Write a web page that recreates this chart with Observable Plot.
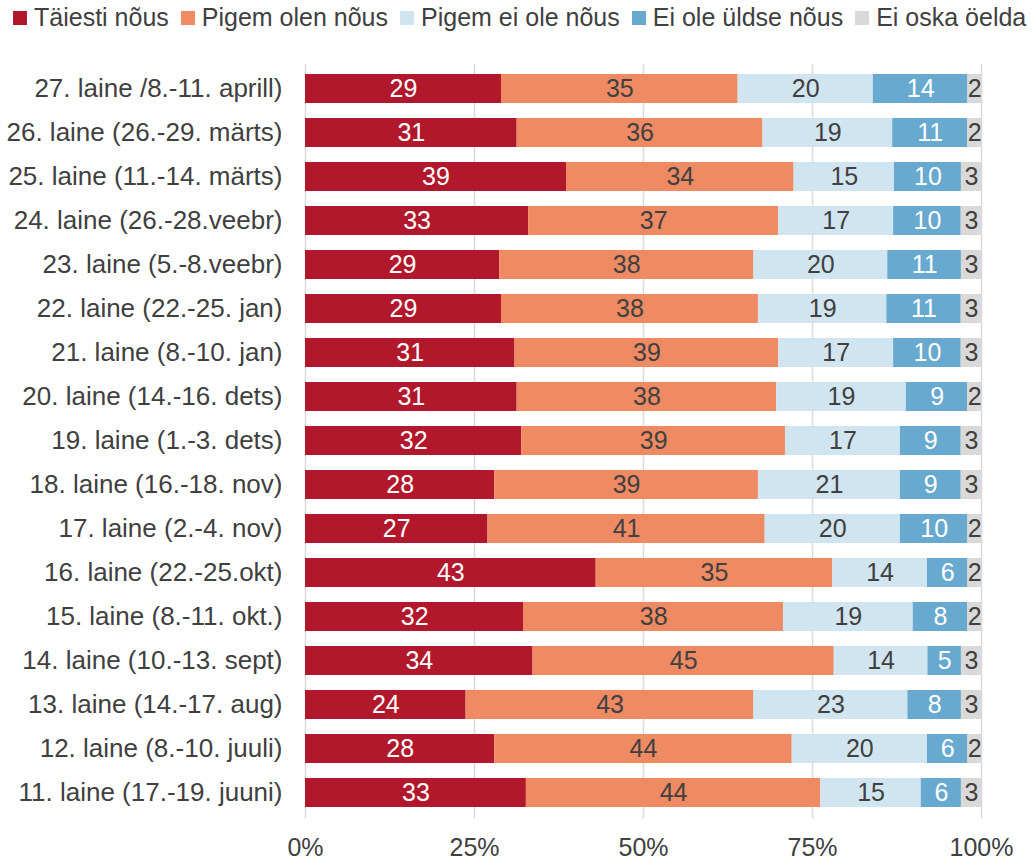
<!DOCTYPE html>
<html>
<head>
<meta charset="utf-8">
<script src="https://cdn.jsdelivr.net/npm/d3@7"></script>
<script src="https://cdn.jsdelivr.net/npm/@observablehq/plot@0.6"></script>
<style>
  html, body { margin: 0; padding: 0; background: #fff; }
  body { width: 1033px; height: 863px; overflow: hidden; font-family: "Liberation Sans", Arial, sans-serif; color: #404040; }
  #legend { height: 38px; padding-top: 2px; display: flex; align-items: flex-start; white-space: nowrap; overflow: hidden; padding-left: 13px; font-size: 25px; line-height: 30px; }
  .item { display: flex; align-items: flex-start; margin-right: 12px; flex: none; }
  .sw { width: 14px; height: 14px; margin-top: 9px; margin-right: 7px; flex: none; }
  #chart svg { display: block; }
</style>
</head>
<body>
<div id="legend"></div>
<div id="chart"></div>
<script>
const waves = [
  "27. laine /8.-11. aprill)",
  "26. laine (26.-29. märts)",
  "25. laine (11.-14. märts)",
  "24. laine (26.-28.veebr)",
  "23. laine (5.-8.veebr)",
  "22. laine (22.-25. jan)",
  "21. laine (8.-10. jan)",
  "20. laine (14.-16. dets)",
  "19. laine (1.-3. dets)",
  "18. laine (16.-18. nov)",
  "17. laine (2.-4. nov)",
  "16. laine (22.-25.okt)",
  "15. laine (8.-11. okt.)",
  "14. laine (10.-13. sept)",
  "13. laine (14.-17. aug)",
  "12. laine (8.-10. juuli)",
  "11. laine (17.-19. juuni)"
];
const seriesNames = ["Täiesti nõus", "Pigem olen nõus", "Pigem ei ole nõus", "Ei ole üldse nõus", "Ei oska öelda"];
const taiesti   = [29, 31, 39, 33, 29, 29, 31, 31, 32, 28, 27, 43, 32, 34, 24, 28, 33];
const pigemOlen = [35, 36, 34, 37, 38, 38, 39, 38, 39, 39, 41, 35, 38, 45, 43, 44, 44];
const pigemEi   = [20, 19, 15, 17, 20, 19, 17, 19, 17, 21, 20, 14, 19, 14, 23, 20, 15];
const eiUldse   = [14, 11, 10, 10, 11, 11, 10, 9, 9, 9, 10, 6, 8, 5, 8, 6, 6];
const eiOska    = [2, 2, 3, 3, 3, 3, 3, 2, 3, 3, 2, 2, 2, 3, 3, 2, 3];
const xTicks = [0, 0.25, 0.5, 0.75, 1];

const colors = ["#b2182b", "#ef8a62", "#d1e5f0", "#67a9cf", "#d9d9d9"];
const labelColors = ["#ffffff", "#404040", "#404040", "#ffffff", "#404040"];

const seriesValues = [taiesti, pigemOlen, pigemEi, eiUldse, eiOska];
const rows = [];
waves.forEach((w, i) => {
  seriesNames.forEach((s, j) => {
    rows.push({wave: w, series: s, value: seriesValues[j][i]});
  });
});

// legend
const legend = document.getElementById("legend");
seriesNames.forEach((s, j) => {
  const it = document.createElement("div");
  it.className = "item";
  const sw = document.createElement("span");
  sw.className = "sw";
  sw.style.background = colors[j];
  const tx = document.createElement("span");
  tx.textContent = s;
  it.appendChild(sw); it.appendChild(tx);
  legend.appendChild(it);
});

const stackOpts = {offset: "normalize", order: seriesNames};

const chart = Plot.plot({
  width: 1033,
  height: 823,
  marginTop: 24,
  marginBottom: 45,
  marginLeft: 305,
  marginRight: 52,
  style: {fontFamily: "Liberation Sans, Arial, sans-serif", fontSize: "25px", color: "#404040", background: "#fff"},
  x: {domain: [0, 1], ticks: xTicks, tickFormat: d => Math.round(d * 100) + "%", label: null, tickSize: 0, tickPadding: 20},
  y: {domain: waves, label: null, tickSize: 0, tickPadding: 23, paddingInner: 0.33, paddingOuter: 0.165},
  color: {domain: seriesNames, range: colors},
  marks: [
    Plot.gridX(xTicks, {stroke: "#d9d9d9", strokeOpacity: 1, strokeWidth: 1.5}),
    Plot.barX(rows, Plot.stackX({x: "value", y: "wave", z: "series", fill: "series", ...stackOpts})),
    Plot.textX(rows, Plot.stackX({
      x: "value", y: "wave", z: "series", ...stackOpts,
      text: d => String(d.value),
      fill: d => labelColors[seriesNames.indexOf(d.series)],
      fontSize: 25
    })),
    Plot.axisY({tickSize: 0, tickPadding: 23, fontSize: 26, label: null}),
    Plot.axisX({ticks: xTicks, tickFormat: d => Math.round(d * 100) + "%", tickSize: 0, tickPadding: 20, label: null})
  ]
});
document.getElementById("chart").appendChild(chart);
</script>
</body>
</html>
